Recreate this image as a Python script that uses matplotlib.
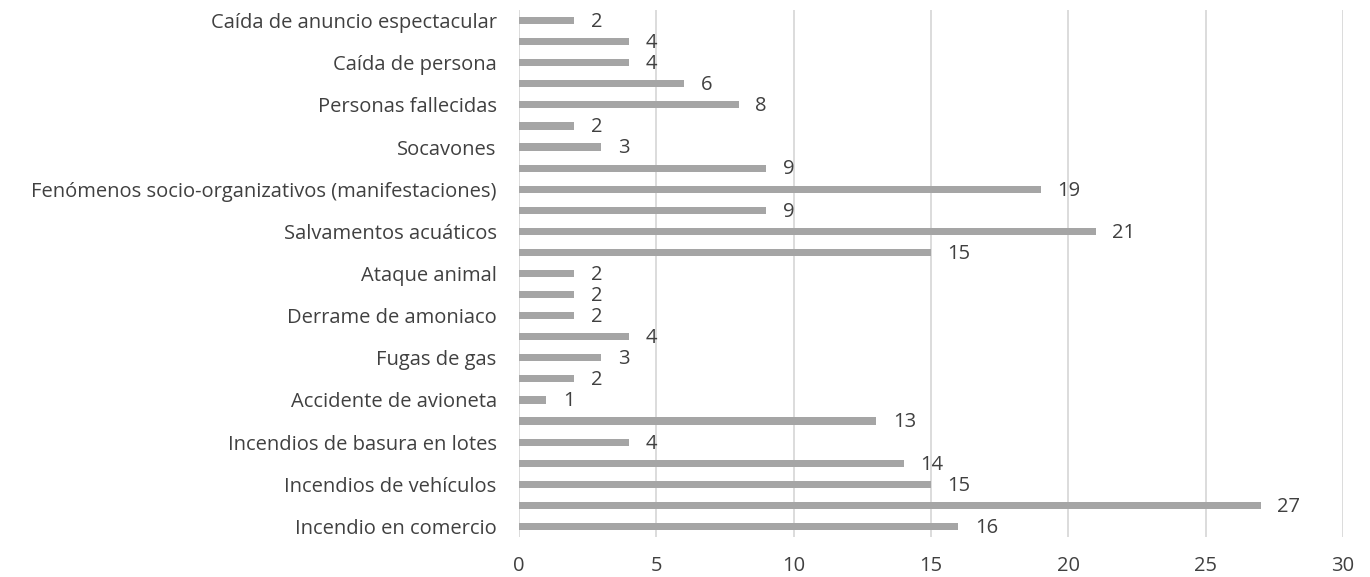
import matplotlib.pyplot as plt
import numpy as np

plt.rcParams['font.family'] = ['Open Sans', 'DejaVu Sans']

# categories bottom to top; Excel only shows every other label
labels = ['Incendio en comercio', '', 'Incendios de vehículos', '',
          'Incendios de basura en lotes', '', 'Accidente de avioneta', '',
          'Fugas de gas', '', 'Derrame de amoniaco', '', 'Ataque animal', '',
          'Salvamentos acuáticos', '', 'Fenómenos socio-organizativos (manifestaciones)', '',
          'Socavones', '', 'Personas fallecidas', '', 'Caída de persona', '',
          'Caída de anuncio espectacular']
values = [16, 27, 15, 14, 4, 13, 1, 2, 3, 4, 2, 2, 2, 15, 21, 9, 19, 9, 3, 2, 8, 6, 4, 4, 2]
xticks = [0, 5, 10, 15, 20, 25, 30]

text_color = '#404040'
fig = plt.figure(figsize=(13.7, 5.77), dpi=100)
ax = fig.add_axes([0.3788, 0.0693, 0.6015, 0.9134])

y = np.arange(len(values))
ax.barh(y, values, height=0.34, color='#a5a5a5', zorder=2)
for yi, v in zip(y, values):
    ax.annotate(str(v), (v, yi), xytext=(12, -1), textcoords='offset points',
                ha='left', va='center', fontsize=14.5, color=text_color)

ax.set_xlim(0, 30)
ax.set_ylim(-0.5, len(values) - 0.5)
ax.set_xticks(xticks)
ax.set_yticks(y)
ax.set_yticklabels(labels)
ax.xaxis.grid(True, color='#d9d9d9', linewidth=1.3, zorder=0)
ax.set_axisbelow(True)
for s in ax.spines.values():
    s.set_visible(False)
ax.tick_params(axis='both', length=0, labelsize=14.5, labelcolor=text_color)
ax.tick_params(axis='y', pad=16)
ax.tick_params(axis='x', pad=14)

fig.savefig('out.png', dpi=100)
